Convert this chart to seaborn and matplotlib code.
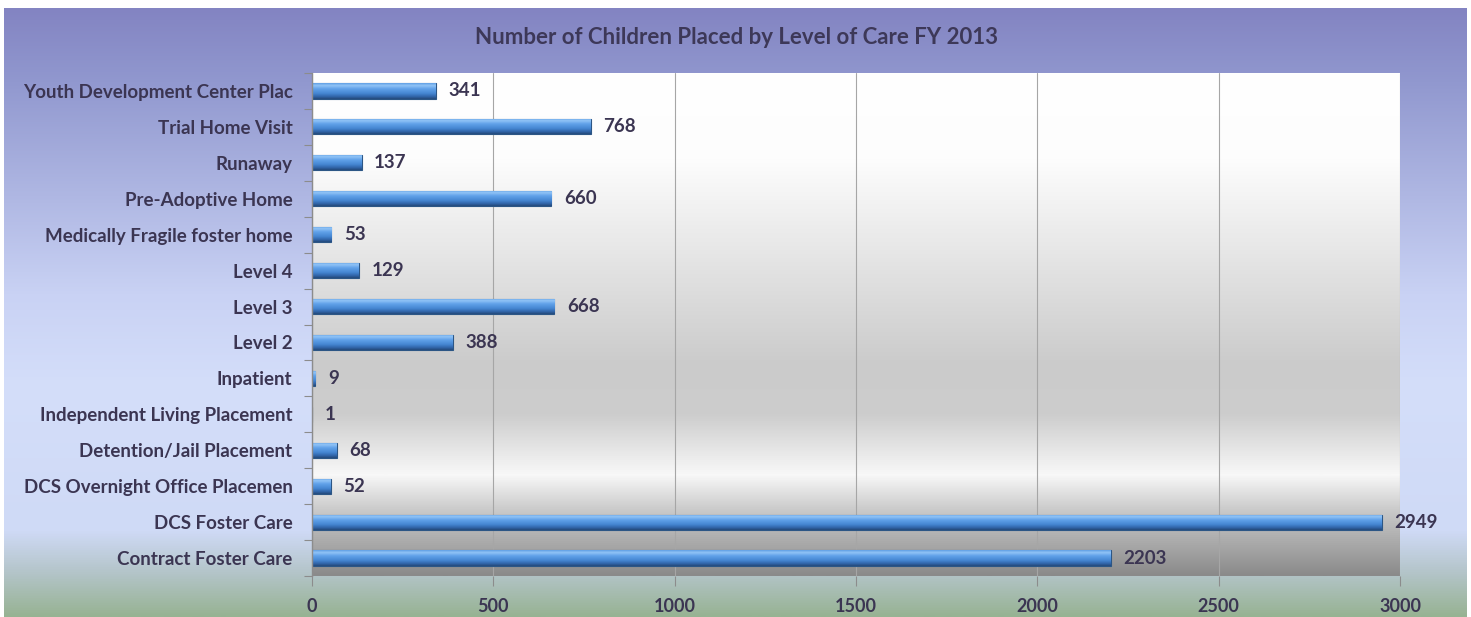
import numpy as np
import matplotlib
matplotlib.use("Agg")
import matplotlib.pyplot as plt
from matplotlib.colors import LinearSegmentedColormap
import seaborn as sns

categories = [
    "Youth Development Center Plac",
    "Trial Home Visit",
    "Runaway",
    "Pre-Adoptive Home",
    "Medically Fragile foster home",
    "Level 4",
    "Level 3",
    "Level 2",
    "Inpatient",
    "Independent Living Placement",
    "Detention/Jail Placement",
    "DCS Overnight Office Placemen",
    "DCS Foster Care",
    "Contract Foster Care",
]
children = [341, 768, 137, 660, 53, 129, 668, 388, 9, 1, 68, 52, 2949, 2203]
x_ticks = [0, 500, 1000, 1500, 2000, 2500, 3000]
title = "Number of Children Placed by Level of Care FY 2013"

sns.set_theme(style="white")
plt.rcParams["font.family"] = ["Lato", "DejaVu Sans"]
text_color = "#3b3552"

W, H = 1471, 617
fig = plt.figure(figsize=(W / 100, H / 100), dpi=100)
fig.patch.set_facecolor("white")

# outer chart area: purple at the top fading to pale blue, green at the bottom
bg = fig.add_axes([4 / W, 0, (W - 9) / W, (H - 8) / H], zorder=-2)
bg_cmap = LinearSegmentedColormap.from_list("outer", [
    (0.00, "#8384c2"),
    (0.12, "#9198cf"),
    (0.47, "#c9d2f4"),
    (0.62, "#d4defa"),
    (0.86, "#cfdaf6"),
    (0.93, "#b3c4c8"),
    (1.00, "#97b393"),
])
bg.imshow(np.linspace(0, 1, 512)[:, None], cmap=bg_cmap, aspect="auto",
          extent=[0, 1, 0, 1], interpolation="bilinear")
bg.set_axis_off()

# plot area geometry
left, right, top, bottom = 312, 1400, 73, 576
pos = [left / W, 1 - bottom / H, (right - left) / W, (bottom - top) / H]

pa = fig.add_axes(pos, zorder=-1)
pa_cmap = LinearSegmentedColormap.from_list("plot", [
    (0.00, "#ffffff"),
    (0.17, "#fdfdfd"),
    (0.58, "#cbcbcb"),
    (0.68, "#cdcdcd"),
    (0.80, "#f8f8f8"),
    (0.87, "#cacaca"),
    (1.00, "#8a8a8a"),
])
pa.imshow(np.linspace(0, 1, 512)[:, None], cmap=pa_cmap, aspect="auto",
          extent=[0, 1, 0, 1], interpolation="bilinear")
pa.set_axis_off()

ax = fig.add_axes(pos)
ax.set_facecolor("none")

sns.barplot(x=children, y=categories, orient="h", width=0.42,
            color="#4d8fdc", edgecolor="#2c5685", linewidth=0.8, ax=ax)

# glossy vertical shading on every bar
bar_cmap = LinearSegmentedColormap.from_list("bar", [
    (0.00, "#5f9fe4"),
    (0.15, "#92c4f6"),
    (0.35, "#62a3ea"),
    (0.65, "#4586d2"),
    (0.85, "#3166aa"),
    (1.00, "#24497a"),
])
grad = np.linspace(0, 1, 64)[:, None]
for patch in ax.patches:
    x0, y0 = patch.get_x(), patch.get_y()
    w, h = patch.get_width(), patch.get_height()
    if w <= 0:
        continue
    im = ax.imshow(grad, cmap=bar_cmap, aspect="auto",
                   extent=[x0, x0 + w, y0 + h, y0],
                   interpolation="bilinear", zorder=patch.get_zorder() + 0.1)
    im.set_clip_path(patch)

for container in ax.containers:
    ax.bar_label(container, padding=9, fontsize=13.5, fontweight="bold",
                 color=text_color)

ax.set_xlim(0, 3000)
ax.set_ylim(len(categories) - 0.5, -0.5)
ax.set_xticks(x_ticks)
ax.set_xticklabels([str(t) for t in x_ticks])
ax.set_xlabel("")
ax.set_ylabel("")

ax.grid(axis="x", color="#a6a6a6", linewidth=0.8)
ax.grid(axis="y", visible=False)
ax.set_axisbelow(True)

for side in ["top", "right", "bottom"]:
    ax.spines[side].set_visible(False)
ax.spines["left"].set_color("#8c8c8c")
ax.spines["left"].set_linewidth(1.0)

# category tick marks sit between the bars
ax.set_yticks(np.arange(-0.5, len(categories) + 0.5, 1), minor=True)
ax.tick_params(axis="y", which="major", length=0, pad=14,
               labelsize=13.5, labelcolor=text_color)
ax.tick_params(axis="y", which="minor", length=6, width=0.8,
               color="#8c8c8c", left=True)
ax.tick_params(axis="x", which="major", length=7, width=0.8,
               color="#8c8c8c", bottom=True, pad=9,
               labelsize=13, labelcolor=text_color)
for lbl in ax.get_yticklabels() + ax.get_xticklabels():
    lbl.set_fontweight("bold")

fig.text(736 / W, 1 - 37 / H, title, ha="center", va="center",
         fontsize=16, fontweight="bold", color="#3d3858")

fig.savefig("out.png", dpi=100)
